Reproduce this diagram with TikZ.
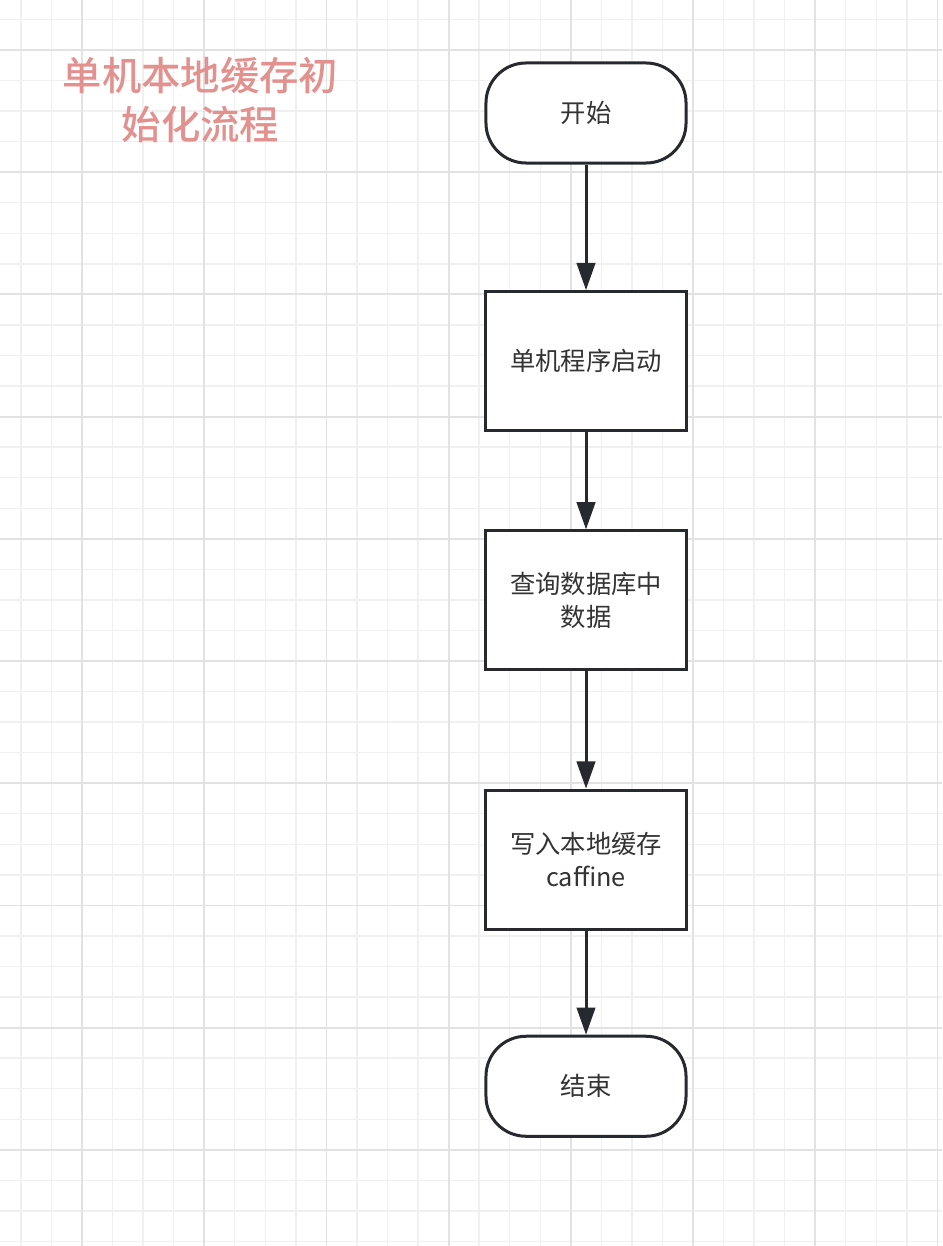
\documentclass[tikz,border=0pt]{standalone}
\usepackage{fontspec}
\setmainfont{Noto Sans CJK SC}
\newfontfamily\titlefont{Noto Sans CJK SC Medium}
\usetikzlibrary{arrows.meta,positioning}
\definecolor{fcLine}{HTML}{262A2E}
\definecolor{fcText}{HTML}{333333}
\definecolor{fcTitle}{HTML}{E3918E}
\definecolor{fcGrid}{HTML}{F0F0F0}
\definecolor{fcGridMajor}{HTML}{E2E2E2}

\begin{document}
\begin{tikzpicture}[
  x=0.025cm, y=-0.025cm,
  >={Triangle[length=0.68cm,width=0.46cm]},
  node distance=2.6cm,
  process/.style={
    draw=fcLine,
    line width=0.075cm,
    fill=white,
    text=fcText,
    minimum width=5cm,
    minimum height=3.475cm,
    align=center,
    font=\fontsize{18}{23}\selectfont
  },
  terminal/.style={
    process,
    rounded corners=1cm,
    minimum height=2.5cm
  },
  flow/.style={->,draw=fcLine,line width=0.075cm}
]
  \useasboundingbox[fill=white] (0,0) rectangle (942,1246);

  % background grid
  \foreach \k in {-3,...,29}
    \draw[fcGrid,line width=0.035cm] (82+30.55*\k,0) -- (82+30.55*\k,1246);
  \foreach \k in {-2,...,39}
    \draw[fcGrid,line width=0.035cm] (0,50+30.55*\k) -- (942,50+30.55*\k);
  \foreach \k in {-1,...,7}
    \draw[fcGridMajor,line width=0.045cm] (82+122.2*\k,0) -- (82+122.2*\k,1246);
  \foreach \k in {0,...,9}
    \draw[fcGridMajor,line width=0.045cm] (0,50+122.2*\k) -- (942,50+122.2*\k);

  \node[text=fcTitle,align=center,font=\fontsize{28}{35.5}\selectfont\titlefont]
    (title) at (200.5,100) {单机本地缓存初\\始化流程};

  \node[terminal] (start) at (586,113) {开始};
  \node[process,below=3.14cm of start] (launch) {单机程序启动};
  \node[process,below=2.43cm of launch] (query) {查询数据库中\\数据};
  \node[process,below=2.93cm of query] (cache) {写入本地缓存\\caffine};
  \node[terminal,below=2.6cm of cache] (stop) {结束};

  \draw[flow] (start)--(launch);
  \draw[flow] (launch)--(query);
  \draw[flow] (query)--(cache);
  \draw[flow] (cache)--(stop);
\end{tikzpicture}
\end{document}
